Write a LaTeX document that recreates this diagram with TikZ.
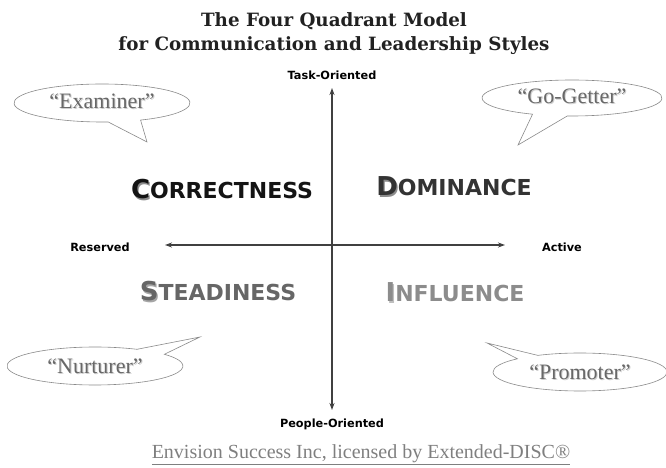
\documentclass[tikz,border=0pt]{standalone}
\usepackage{fontspec}
\setmainfont{Liberation Serif}
\newfontfamily\sansfont{DejaVu Sans}
\newfontfamily\titlefont{DejaVu Serif}
\usetikzlibrary{arrows.meta,calc}

\definecolor{axisgray}{HTML}{404040}
\definecolor{bubbleline}{HTML}{8A8A8A}
\definecolor{bubbletext}{HTML}{686868}
\definecolor{bubbleshade}{HTML}{CFCFCF}
\definecolor{footgray}{HTML}{7F7F7F}

% capital with a soft drop shadow: letter, shadow colour, letter colour
\newcommand\dropcap[3]{%
  \rlap{\hspace{1.4pt}\raisebox{-1.4pt}{\textcolor{#2}{#1}}}\textcolor{#3}{#1}}
% bubble caption with a faint shadow
\newcommand\shadowtext[1]{%
  \rlap{\hspace{1pt}\raisebox{-1pt}{\textcolor{bubbleshade}{#1}}}\textcolor{bubbletext}{#1}}

\tikzset{
  axis/.style={draw=axisgray, line width=1.3pt, {Stealth[length=7pt,width=5pt]}-{Stealth[length=7pt,width=5pt]}},
  axislabel/.style={font=\sansfont\bfseries\fontsize{11.3}{13}\selectfont, text=black, inner sep=0pt},
  quadword/.style={font=\sansfont\bfseries\fontsize{22}{26}\selectfont, inner sep=0pt},
  bubble/.style={draw=bubbleline, line width=0.6pt, fill=white},
  bubblelabel/.style={font=\fontsize{22}{26}\selectfont, inner sep=0pt},
  titletext/.style={font=\titlefont\bfseries\fontsize{18.3}{24}\selectfont, text=black!87, align=center, inner sep=0pt},
}

\begin{document}
\begin{tikzpicture}[x=1pt, y=1pt]
\useasboundingbox (0,0) rectangle (666,468);

% heading
\node[titletext] (title) at (334,434) {The Four Quadrant Model\\for Communication and Leadership Styles};

% axes
\coordinate (top) at (332,380);
\coordinate (bottom) at (332,58);
\coordinate (left) at (165,223);
\coordinate (right) at (505,223);
\draw[axis] (top) -- (bottom);
\draw[axis] (left) -- (right);

% axis captions
\node[axislabel] (task) at (332,393) {Task-Oriented};
\node[axislabel] (people) at (332,44) {People-Oriented};
\node[axislabel] (reserved) at (100,221) {Reserved};
\node[axislabel] (active) at (562,221) {Active};

% quadrant names
\node[quadword] (corr) at (222,278) {\dropcap{\fontsize{26}{26}\selectfont C}{black!45}{black!92}\textcolor{black!92}{ORRECTNESS}};
\node[quadword] (dom) at (454,281) {\dropcap{\fontsize{26}{26}\selectfont D}{black!45}{black!80}\textcolor{black!80}{OMINANCE}};
\node[quadword] (stead) at (218,176) {\dropcap{\fontsize{26}{26}\selectfont S}{black!35}{black!60}\textcolor{black!60}{TEADINESS}};
\node[quadword] (infl) at (455,175) {\dropcap{\fontsize{26}{26}\selectfont I}{black!25}{black!45}\textcolor{black!45}{NFLUENCE}};

% speech bubbles: ellipse body with a pointed tail
\coordinate (exC) at (102,365);
\coordinate (exTip) at (147,326);
\draw[bubble] ($(exC)+(-64:88 and 19)$) arc[start angle=-64, end angle=274, x radius=88, y radius=19] -- (exTip) -- cycle;
\node[bubblelabel] (examiner) at (102,366) {\shadowtext{``Examiner''}};

\coordinate (ggC) at (572,370);
\coordinate (ggTip) at (518,323);
\draw[bubble] ($(ggC)+(267:90 and 18)$) arc[start angle=267, end angle=604, x radius=90, y radius=18] -- (ggTip) -- cycle;
\node[bubblelabel] (gogetter) at (572,371) {\shadowtext{``Go-Getter''}};

\coordinate (nuC) at (95,102);
\coordinate (nuTip) at (200,131);
\draw[bubble] ($(nuC)+(61.5:88 and 19)$) arc[start angle=61.5, end angle=398, x radius=88, y radius=19] -- (nuTip) -- cycle;
\node[bubblelabel] (nurturer) at (95,101) {\shadowtext{``Nurturer''}};

\coordinate (prC) at (580,96);
\coordinate (prTip) at (487,125);
\draw[bubble] ($(prC)+(136:87 and 19)$) arc[start angle=136, end angle=479, x radius=87, y radius=19] -- (prTip) -- cycle;
\node[bubblelabel] (promoter) at (580,95) {\shadowtext{``Promoter''}};

% credit line
\node[font=\fontsize{20}{24}\selectfont, text=footgray, inner sep=0pt] (credit) at (361,13)
  {\underline{Envision Success Inc, licensed by Extended-DISC®}};
\end{tikzpicture}
\end{document}
